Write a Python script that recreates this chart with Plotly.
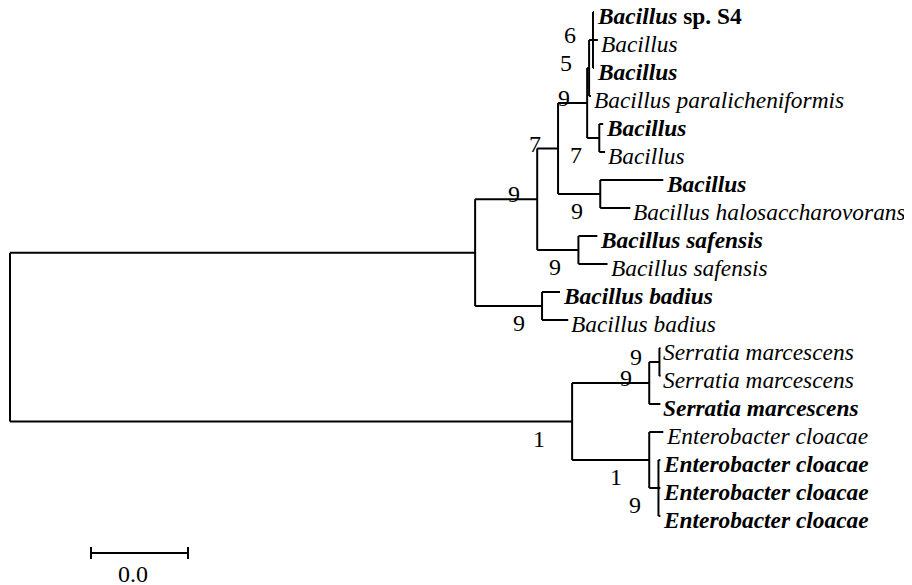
import plotly.graph_objects as go

# ---------------- data ----------------
# tree: node, parent, branch length (children listed top -> bottom)
node_names = ["root", "B", "N537", "N558", "P", "Q", "N", "t0", "t1", "t2", "t3",
              "R", "t4", "t5", "H", "t6", "t7", "Saf", "t8", "t9", "Bad", "t10", "t11",
              "E", "S", "S2", "t12", "t13", "t14", "E2", "t15", "E3", "t16", "t17", "t18"]
node_parent = [None, "root", "B", "N537", "N558", "P", "Q", "N", "N", "N", "Q",
               "P", "R", "R", "N558", "H", "H", "N537", "Saf", "Saf", "B", "Bad", "Bad",
               "root", "E", "S", "S2", "S2", "S", "E", "E2", "E2", "E3", "E3", "E3"]
branch_length = [0.0, 0.0959, 0.0128, 0.0043, 0.0060, 0.0004, 0.0008, 0.0002, 0.0010, 0.0002, 0.0004,
                 0.0025, 0.0008, 0.0012, 0.0087, 0.0130, 0.0062, 0.0085, 0.0039, 0.0060, 0.0138, 0.0037, 0.0054,
                 0.1159, 0.0159, 0.0021, 0.0002, 0.0002, 0.0023, 0.0159, 0.0029, 0.0019, 0.0004, 0.0004, 0.0004]

# bootstrap labels on internal nodes
bootstrap_nodes = ["N", "Q", "P", "R", "N558", "N537", "H", "Saf", "Bad", "S", "S2", "E", "E2", "E3"]
bootstrap_text = ["6", "5", "9", "7", "7", "9", "9", "9", "9", "9", "9", "1", "1", "9"]

# tip labels (html: bold = own isolates)
tip_nodes = ["t0", "t1", "t2", "t3", "t4", "t5", "t6", "t7", "t8", "t9", "t10", "t11",
             "t12", "t13", "t14", "t15", "t16", "t17", "t18"]
tip_labels = ["<b><i>Bacillus</i> sp. S4</b>", "<i>Bacillus</i>", "<b><i>Bacillus</i></b>",
              "<i>Bacillus paralicheniformis</i>", "<b><i>Bacillus</i></b>", "<i>Bacillus</i>",
              "<b><i>Bacillus</i></b>", "<i>Bacillus halosaccharovorans</i>",
              "<b><i>Bacillus safensis</i></b>", "<i>Bacillus safensis</i>",
              "<b><i>Bacillus badius</i></b>", "<i>Bacillus badius</i>",
              "<i>Serratia marcescens</i>", "<i>Serratia marcescens</i>",
              "<b><i>Serratia marcescens</i></b>", "<i>Enterobacter cloacae</i>",
              "<b><i>Enterobacter cloacae</i></b>", "<b><i>Enterobacter cloacae</i></b>",
              "<b><i>Enterobacter cloacae</i></b>"]

scale_length = 0.02
scale_label = "0.0"

# ---------------- layout computation ----------------
children = {n: [] for n in node_names}
for n, p in zip(node_names, node_parent):
    if p is not None:
        children[p].append(n)
blen = dict(zip(node_names, branch_length))

xpos, ypos = {}, {}
row = [0]

def place(n, x):
    xpos[n] = x
    if not children[n]:
        ypos[n] = row[0]
        row[0] += 1
    else:
        for c in children[n]:
            place(c, x + blen[c])
        ys = [ypos[c] for c in children[n]]
        ypos[n] = (ys[0] + ys[-1]) / 2.0

place("root", 0.0)

PX = 4850.0   # pixels per unit of branch length
ROW = 28.0    # pixels per tip row
OFF = 8       # page body margin offset of the plot
xr = [(OFF - 10) / PX, (OFF + 912 - 10) / PX]
yr = [(OFF + 585 - 12) / ROW, (OFF - 12) / ROW]

lx, ly = [], []
for n, p in zip(node_names, node_parent):
    if p is not None:
        lx += [xpos[p], xpos[n], None]
        ly += [ypos[n], ypos[n], None]
    if children[n]:
        ys = [ypos[c] for c in children[n]]
        lx += [xpos[n], xpos[n], None]
        ly += [ys[0], ys[-1], None]

fig = go.Figure()
fig.add_trace(go.Scatter(x=lx, y=ly, mode="lines", line=dict(color="black", width=2),
                         hoverinfo="skip", showlegend=False))

# scale bar
sb_x0 = 81 / PX
sb_y = (553 - 12) / ROW
tick = 6 / ROW
fig.add_trace(go.Scatter(
    x=[sb_x0, sb_x0 + scale_length, None, sb_x0, sb_x0, None, sb_x0 + scale_length, sb_x0 + scale_length],
    y=[sb_y, sb_y, None, sb_y - tick, sb_y + tick, None, sb_y - tick, sb_y + tick],
    mode="lines", line=dict(color="black", width=2), hoverinfo="skip", showlegend=False))

FONT = "Liberation Serif, Times New Roman, serif"
ann = []
for n, t in zip(tip_nodes, tip_labels):
    ann.append(dict(x=xpos[n], y=ypos[n], xref="x", yref="y", text=t, showarrow=False,
                    xanchor="left", yanchor="middle", xshift=1, yshift=-4,
                    font=dict(family=FONT, size=23.4, color="black")))

for n, t in zip(bootstrap_nodes, bootstrap_text):
    first = children[node_parent[node_names.index(n)]][0] == n
    dx = -25 if t == "1" else -15
    ann.append(dict(x=xpos[n], y=ypos[n], xref="x", yref="y", text=t, showarrow=False,
                    xanchor="right", yanchor="middle", xshift=dx,
                    yshift=(5 if first else -17),
                    font=dict(family=FONT, size=24, color="black")))

ann.append(dict(x=sb_x0 + scale_length / 2, y=sb_y, xref="x", yref="y", text=scale_label,
                showarrow=False, xanchor="center", yanchor="middle", xshift=-7, yshift=-21,
                font=dict(family=FONT, size=24, color="black")))

fig.update_layout(
    width=912, height=585, margin=dict(l=0, r=0, t=0, b=0),
    paper_bgcolor="white", plot_bgcolor="white",
    xaxis=dict(range=xr, visible=False, showgrid=False, zeroline=False),
    yaxis=dict(range=yr, visible=False, showgrid=False, zeroline=False),
    annotations=ann, showlegend=False,
)
fig.write_html("out.html")
